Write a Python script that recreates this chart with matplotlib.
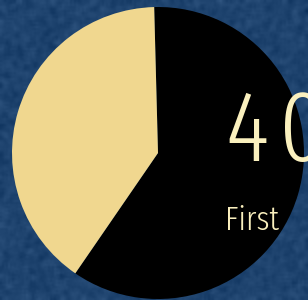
import matplotlib
matplotlib.use("Agg")
import matplotlib.pyplot as plt
import numpy as np
from matplotlib import font_manager
from matplotlib.font_manager import FontProperties
from matplotlib.textpath import TextPath
from numpy.lib.stride_tricks import sliding_window_view

labels = ["Second", "First"]
values = [60, 40]
colors = ["#000000", "#F0D78F"]
big_label = "40"
sub_label = "First"

W, H = 308, 300
fig = plt.figure(figsize=(W / 100, H / 100), dpi=100)
fig.patch.set_facecolor("#1F4572")

# subtle background texture (decorative)
bg = fig.add_axes([0, 0, 1, 1])
rng = np.random.default_rng(3)
noise = rng.normal(0, 1, (H // 2, W // 2))
pad = np.pad(noise, 1, mode="edge")
sm = sliding_window_view(pad, (3, 3)).mean(axis=(-1, -2))
base = np.array([30, 67, 110]) / 255
img = np.clip(base[None, None, :] + 0.05 * sm[..., None], 0, 1)
bg.imshow(img, extent=[0, 1, 0, 1], aspect="auto", interpolation="bilinear")
bg.set_axis_off()

cx, cy, r = 158, 153, 146
ax = fig.add_axes([(cx - r) / W, (H - cy - r) / H, 2 * r / W, 2 * r / H])
ax.pie(values, colors=colors, startangle=91.5, counterclock=False,
       wedgeprops=dict(linewidth=0))
ax.set_xlim(-1, 1)
ax.set_ylim(-1, 1)
ax.set_aspect("equal")
ax.set_axis_off()

fonts = font_manager.fontManager.ttflist
light = {}
for f in fonts:
    w = f.weight if isinstance(f.weight, int) else 400
    if 250 <= w <= 320 and f.style == "normal":
        light.setdefault(f.name, w)
fam, wt = "DejaVu Sans", "light"
for cand in ["Oswald", "Fira Sans Extra Condensed", "Antonio"]:
    if cand in light:
        fam, wt = cand, 300 if cand == "Fira Sans Extra Condensed" else light[cand]
        break
prop = FontProperties(family=fam, weight=wt)


def glyph_h(s):
    bb = TextPath((0, 0), s, size=100, prop=prop).get_extents()
    return bb.y1 - bb.y0


txt_col = "#FAF0BE"
# big number: letter-spaced, cap height ~68px
fs_big = 68 / glyph_h("4") * 100 * 0.72
x_pos = [225, 279]
for ch, xp in zip(big_label, x_pos):
    fig.text(xp / W, 1 - 161 / H, ch, fontproperties=prop, fontsize=fs_big,
             color=txt_col, ha="left", va="baseline")

fs_sub = 23 / glyph_h("F") * 100 * 0.72
fig.text(225 / W, 1 - 230 / H, sub_label, fontproperties=prop, fontsize=fs_sub,
         color=txt_col, ha="left", va="baseline")

fig.savefig("out.png", dpi=100, facecolor=fig.get_facecolor())
